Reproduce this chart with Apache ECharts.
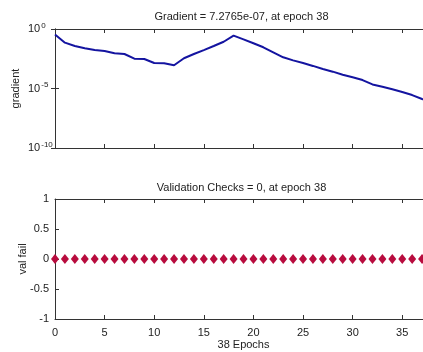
<!DOCTYPE html>
<html>
<head>
<meta charset="utf-8">
<script src="https://cdn.jsdelivr.net/npm/echarts@6/dist/echarts.min.js"></script>
<style>
html,body{margin:0;padding:0;background:#fff;overflow:hidden;width:423px;height:352px;}
#chart{width:483px;height:352px;}
</style>
</head>
<body>
<div id="chart"></div>
<script>
// ---- data ----
const epochs = [0,1,2,3,4,5,6,7,8,9,10,11,12,13,14,15,16,17,18,19,20,21,22,23,24,25,26,27,28,29,30,31,32,33,34,35,36,37,38];
const gradient = [3.5e-1,7.1e-2,3.7e-2,2.4e-2,1.7e-2,1.4e-2,9.1e-3,7.9e-3,3.2e-3,3.0e-3,1.4e-3,1.3e-3,8.9e-4,3.5e-3,7.9e-3,1.7e-2,3.7e-2,8.5e-2,2.8e-1,1.35e-1,6.3e-2,2.9e-2,1.1e-2,4.2e-3,2.3e-3,1.4e-3,7.9e-4,4.4e-4,2.6e-4,1.45e-4,8.7e-5,5.1e-5,2.2e-5,1.4e-5,8.5e-6,5.1e-6,2.8e-6,1.3e-6,7.2765e-7];
const valFail = [0,0,0,0,0,0,0,0,0,0,0,0,0,0,0,0,0,0,0,0,0,0,0,0,0,0,0,0,0,0,0,0,0,0,0,0,0,0,0];
const gradientTitle = 'Gradient = 7.2765e-07, at epoch 38';
const valTitle = 'Validation Checks = 0, at epoch 38';
const valTicks = [-1, -0.5, 0, 0.5, 1];

const chart = echarts.init(document.getElementById('chart'));
const font = 'Liberation Sans, Arial, sans-serif';
const txt = '#222';
const axisColor = '#333';

function frameX(gridIndex, position, showLabel) {
  return {
    type: 'value', gridIndex, position, min: 0, max: 38, interval: 5,
    axisLine: {show: true, onZero: false, lineStyle: {color: axisColor, width: 1}},
    axisTick: {show: true, inside: true, length: 4, lineStyle: {color: axisColor}},
    axisLabel: {show: showLabel, color: txt, fontFamily: font, fontSize: 11, margin: 8},
    splitLine: {show: false}
  };
}

const option = {
  backgroundColor: '#fff',
  animation: false,
  title: [
    {text: gradientTitle, left: 'center', top: 6, textStyle: {fontFamily: font, fontSize: 11, fontWeight: 'normal', color: txt}},
    {text: valTitle, left: 'center', top: 177, textStyle: {fontFamily: font, fontSize: 11, fontWeight: 'normal', color: txt}}
  ],
  grid: [
    {left: 55, right: 51, top: 29, height: 119, outerBoundsMode: 'none', containLabel: false},
    {left: 55, right: 51, top: 199, height: 120, outerBoundsMode: 'none', containLabel: false}
  ],
  xAxis: [
    frameX(0, 'bottom', false),
    frameX(0, 'top', false),
    Object.assign(frameX(1, 'bottom', true), {name: '38 Epochs', nameLocation: 'middle', nameGap: 20, nameTextStyle: {fontFamily: font, fontSize: 11, color: txt}}),
    frameX(1, 'top', false)
  ],
  yAxis: [
    {
      type: 'log', gridIndex: 0, logBase: 10, min: 1e-10, max: 1, interval: 5, splitNumber: 2,
      name: 'gradient', nameLocation: 'middle', nameGap: 34, nameRotate: 90, nameMoveOverlap: false,
      nameTextStyle: {fontFamily: font, fontSize: 11, color: txt},
      axisLine: {show: true, lineStyle: {color: axisColor}},
      axisTick: {show: true, inside: true, length: 4, lineStyle: {color: axisColor}},
      splitLine: {show: false},
      axisLabel: {
        color: txt, fontFamily: font, fontSize: 11, margin: 27, align: 'left',
        formatter: v => '10{sup|' + Math.round(Math.log10(v)) + '}',
        rich: {sup: {fontSize: 8, color: txt, fontFamily: font, padding: [0, 0, 7, 1]}}
      }
    },
    {
      type: 'log', gridIndex: 0, position: 'right', logBase: 10, min: 1e-10, max: 1, interval: 5, splitNumber: 2,
      axisLine: {show: true, lineStyle: {color: axisColor}},
      axisTick: {show: true, inside: true, length: 4, lineStyle: {color: axisColor}},
      axisLabel: {show: false}, splitLine: {show: false}
    },
    {
      type: 'value', gridIndex: 1, min: valTicks[0], max: valTicks[valTicks.length - 1], interval: 0.5,
      name: 'val fail', nameLocation: 'middle', nameGap: 27, nameRotate: 90, nameMoveOverlap: false,
      nameTextStyle: {fontFamily: font, fontSize: 11, color: txt},
      axisLine: {show: true, onZero: false, lineStyle: {color: axisColor}},
      axisTick: {show: true, inside: true, length: 4, lineStyle: {color: axisColor}},
      splitLine: {show: false},
      axisLabel: {color: txt, fontFamily: font, fontSize: 11, margin: 6}
    },
    {
      type: 'value', gridIndex: 1, position: 'right', min: -1, max: 1, interval: 0.5,
      axisLine: {show: true, onZero: false, lineStyle: {color: axisColor}},
      axisTick: {show: true, inside: true, length: 4, lineStyle: {color: axisColor}},
      axisLabel: {show: false}, splitLine: {show: false}
    }
  ],
  series: [
    {
      type: 'line', xAxisIndex: 0, yAxisIndex: 0, showSymbol: false,
      data: epochs.map((e, i) => [e, gradient[i]]),
      lineStyle: {color: '#1414a0', width: 2}, itemStyle: {color: '#1414a0'}
    },
    {
      type: 'scatter', xAxisIndex: 2, yAxisIndex: 2, symbol: 'diamond', symbolSize: [8, 10],
      data: epochs.map((e, i) => [e, valFail[i]]),
      itemStyle: {color: '#b80c3e', opacity: 1}
    }
  ]
};
chart.setOption(option);
</script>
</body>
</html>
